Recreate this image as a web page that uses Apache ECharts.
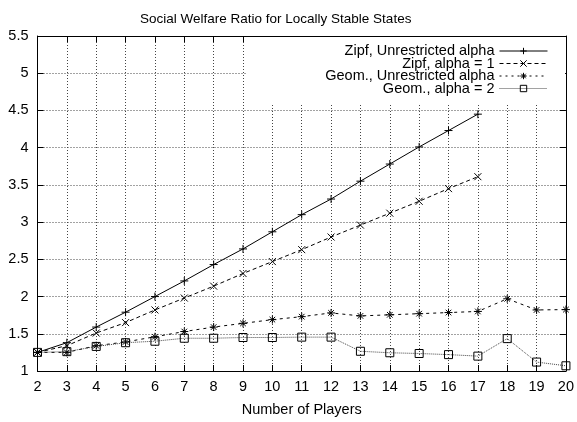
<!DOCTYPE html>
<html>
<head>
<meta charset="utf-8">
<script src="https://cdn.jsdelivr.net/npm/echarts@6/dist/echarts.min.js"></script>
<style>
  html, body { margin: 0; padding: 0; background: #fff; }
  #chart { width: 577px; height: 422px; }
</style>
</head>
<body>
<div id="chart"></div>
<script>
"use strict";

// 玩家数 2..20
const players = [2, 3, 4, 5, 6, 7, 8, 9, 10, 11, 12, 13, 14, 15, 16, 17, 18, 19, 20];

const zipfFree = [1.25, 1.38, 1.59, 1.79, 2.0, 2.21, 2.43, 2.64, 2.87, 3.10, 3.31, 3.55, 3.78, 4.01, 4.23, 4.45];
const zipfA1 = [1.25, 1.34, 1.51, 1.65, 1.82, 1.98, 2.14, 2.31, 2.47, 2.63, 2.80, 2.96, 3.12, 3.28, 3.45, 3.61];
const geomFree = [1.25, 1.25, 1.34, 1.39, 1.46, 1.53, 1.59, 1.64, 1.69, 1.73, 1.78, 1.74, 1.755, 1.77, 1.785, 1.80, 1.97, 1.82, 1.825];
const geomA2 = [1.25, 1.26, 1.33, 1.38, 1.40, 1.44, 1.44, 1.45, 1.45, 1.455, 1.455, 1.265, 1.245, 1.235, 1.22, 1.20, 1.435, 1.12, 1.07];

const NAMES = ["Zipf, Unrestricted alpha", "Zipf, alpha = 1", "Geom., Unrestricted alpha", "Geom., alpha = 2"];

// gnuplot 风格点型
const SYM_PLUS = "path://M0,5L10,5M5,0L5,10";
const SYM_CROSS = "path://M0,0L10,10M10,0L0,10";
const SYM_STAR = "path://M0,5L10,5M5,0L5,10M1.5,1.5L8.5,8.5M8.5,1.5L1.5,8.5";

const FONT = "Liberation Sans, Arial, sans-serif";
const FS = 14.5;

function pts(vals) {
  return vals.map((v, i) => [players[i], v]);
}

function mkSeries(name, vals, symbol, size, lineType, color) {
  return {
    name, type: "line", data: pts(vals),
    symbol, symbolSize: size, showSymbol: true,
    lineStyle: { color, width: 1, type: lineType },
    itemStyle: { color: "none", borderColor: "#000", borderWidth: 1 },
    emphasis: { disabled: true },
    animation: false, z: 3,
  };
}

function mkLegend(name, top, lineType, color) {
  return {
    data: [name], top, right: 29, padding: 0, align: "right",
    itemWidth: 48, itemHeight: 8, itemGap: 0,
    lineStyle: { width: 1, type: lineType, color },
    itemStyle: { color: "none", borderColor: "#000", borderWidth: 1 },
    textStyle: { fontFamily: FONT, fontSize: FS, color: "#000" },
    selectedMode: false, z: 6,
  };
}

const gridLine = { show: true, lineStyle: { color: "#444", type: [1, 2], width: 1 } };
const frame = { show: true, onZero: false, lineStyle: { color: "#000", width: 1 } };
const tick = { show: true, inside: true, length: 6, lineStyle: { color: "#000" } };

const chart = echarts.init(document.getElementById("chart"));
chart.setOption({
  animation: false,
  title: {
    text: "Social Welfare Ratio for Locally Stable States",
    left: 135, top: 7,
    textStyle: { fontFamily: FONT, fontSize: 13.5, fontWeight: "normal", color: "#000" },
  },
  legend: [
    mkLegend(NAMES[0], 43.5, "solid", "#000"),
    mkLegend(NAMES[1], 56, [4, 3], "#000"),
    mkLegend(NAMES[2], 68.5, [2, 4], "#000"),
    mkLegend(NAMES[3], 81, [1, 1], "#444"),
  ],
  // 图例底色, 盖住网格线
  graphic: [{
    type: "rect", z: 1, silent: true,
    shape: { x: 246, y: 37, width: 319, height: 68 },
    style: { fill: "#fff" },
  }],
  grid: { left: 37.5, right: 11, top: 36, bottom: 44 },
  xAxis: [
    {
      type: "value", min: 2, max: 20, interval: 1,
      name: "Number of Players", nameLocation: "middle", nameGap: 31,
      nameTextStyle: { fontFamily: FONT, fontSize: FS, color: "#000" },
      axisLine: frame, axisTick: tick, splitLine: gridLine,
      axisLabel: { fontFamily: FONT, fontSize: FS, color: "#000", margin: 8 },
    },
    {
      type: "value", position: "top", min: 2, max: 20, interval: 1,
      axisLine: frame, axisTick: tick, splitLine: { show: false },
      axisLabel: { show: false },
    },
  ],
  yAxis: [
    {
      type: "value", min: 1, max: 5.5, interval: 0.5,
      axisLine: frame, axisTick: tick, splitLine: gridLine,
      axisLabel: { fontFamily: FONT, fontSize: FS, color: "#000", margin: 9 },
    },
    {
      type: "value", position: "right", min: 1, max: 5.5, interval: 0.5,
      axisLine: frame, axisTick: tick, splitLine: { show: false },
      axisLabel: { show: false },
    },
  ],
  series: [
    mkSeries(NAMES[0], zipfFree, SYM_PLUS, 8, "solid", "#000"),
    mkSeries(NAMES[1], zipfA1, SYM_CROSS, 7, [4, 3], "#000"),
    mkSeries(NAMES[2], geomFree, SYM_STAR, 8, [3, 4], "#000"),
    mkSeries(NAMES[3], geomA2, "rect", 8, [1, 1], "#444"),
  ],
});
</script>
</body>
</html>
